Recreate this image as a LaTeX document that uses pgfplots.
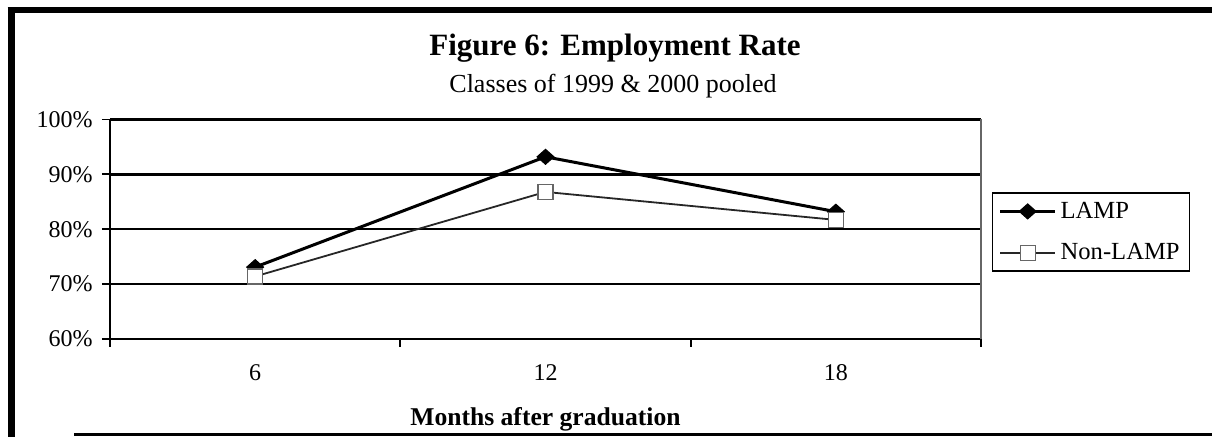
\documentclass[border=0pt]{standalone}
\usepackage{fontspec}
\setmainfont{Liberation Serif}
\usepackage{pgfplots}
\pgfplotsset{compat=1.18}
\begin{document}
\begin{tikzpicture}
\useasboundingbox (0,0) rectangle (606pt,218.5pt);
\draw[line width=3.5pt] (5.5pt,0pt) -- (5.5pt,213.5pt);
\draw[line width=3pt] (3.75pt,213.5pt) -- (606pt,213.5pt);
\draw[line width=1.5pt] (37pt,1pt) -- (606pt,1pt);
\node[font=\bfseries\fontsize{15.5}{18}\selectfont, anchor=base] at (307.5pt,190.5pt) {Figure 6: Employment Rate};
\node[font=\fontsize{13}{15}\selectfont, anchor=base] at (306.5pt,172pt) {Classes of 1999 \& 2000 pooled};
\begin{axis}[
  at={(55pt,49pt)}, anchor=south west,
  scale only axis, width=435.5pt, height=109.75pt,
  xmin=-0.5, xmax=2.5, ymin=60, ymax=100,
  axis x line*=bottom, axis y line*=left,
  axis line style={line width=1.1pt},
  xtick={-0.5,0.5,1.5,2.5}, xticklabels={},
  extra x ticks={0,1,2}, extra x tick labels={6,12,18},
  extra x tick style={major tick length=0pt, grid=none},
  ytick={60,70,80,90,100},
  yticklabels={60\%,70\%,80\%,90\%,100\%},
  tick align=outside, major tick length=4pt,
  tick style={black, line width=0.9pt},
  ymajorgrids, grid style={black, line width=1.2pt},
  tick label style={font=\fontsize{12}{14}\selectfont},
  xticklabel style={anchor=center, yshift=-17pt},
  yticklabel style={anchor=east, inner sep=0pt, xshift=-4.5pt},
  xlabel={Months after graduation},
  xlabel style={font=\bfseries\fontsize{12.8}{15}\selectfont, at={(axis description cs:0.5,0)}, anchor=center, yshift=-40pt},
  legend style={at={(axis description cs:1.0125,0.6697)}, anchor=north west,
    draw=black, line width=0.8pt, font=\fontsize{12.3}{14}\selectfont,
    inner xsep=3pt, inner ysep=2.5pt, row sep=7pt},
  legend cell align=left,
  legend image code/.code={\draw[mark repeat=2, mark phase=2, #1] plot coordinates {(0pt,0pt) (13.75pt,0pt) (27.5pt,0pt)};},
  clip=false,
]
\draw[black!60, line width=0.7pt] (rel axis cs:1,0) -- (rel axis cs:1,1);
\addplot[black, line width=1.5pt, mark=diamond*, mark size=3.75pt, mark options={xscale=1.5, fill=black, solid, line width=0.5pt}]
  coordinates {(0,73.1) (1,93.2) (2,83.2)};
\addlegendentry{LAMP}
\addplot[black!85, line width=0.9pt, mark=square*, mark size=3.75pt, mark options={fill=white, draw=black!60, line width=0.6pt}]
  coordinates {(0,71.4) (1,86.8) (2,81.7)};
\addlegendentry{Non-LAMP}
\end{axis}
\end{tikzpicture}
\end{document}
